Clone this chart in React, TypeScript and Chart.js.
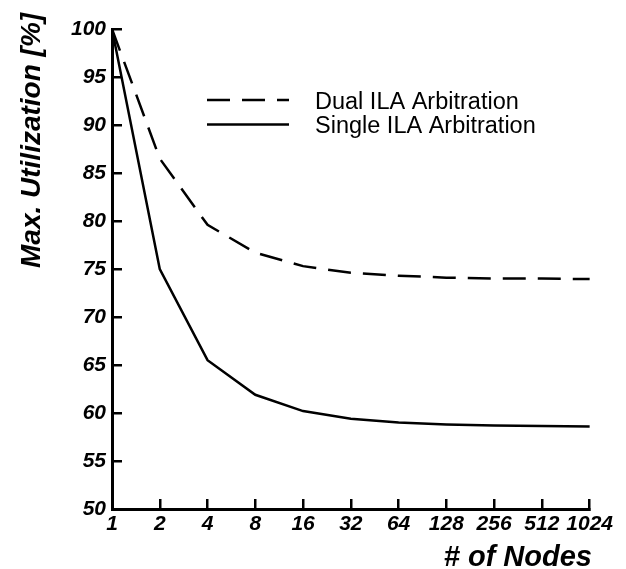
import React, { useEffect, useRef } from "react";
import { Chart, registerables } from "chart.js";

Chart.register(...registerables);

const nodeLabels = ["1", "2", "4", "8", "16", "32", "64", "128", "256", "512", "1024"];
const dualILA = [100, 86.5, 79.6, 76.7, 75.3, 74.6, 74.3, 74.1, 74.0, 74.0, 73.95];
const singleILA = [100, 75.0, 65.5, 61.9, 60.2, 59.4, 59.0, 58.8, 58.7, 58.65, 58.6];
const seriesNames = ["Dual ILA Arbitration", "Single ILA Arbitration"];
const yTitle = "Max. Utilization [%]";
const xTitle = "# of Nodes";

const FAMILY = "'Liberation Sans', Arial, Helvetica, sans-serif";

const overlayPlugin = {
  id: "overlay",
  afterDraw(chart: any) {
    const ctx = chart.ctx;
    ctx.save();
    ctx.fillStyle = "#000";
    ctx.strokeStyle = "#000";
    // legend
    ctx.lineWidth = 2.5;
    ctx.setLineDash([23, 12]);
    ctx.beginPath();
    ctx.moveTo(207, 100);
    ctx.lineTo(289, 100);
    ctx.stroke();
    ctx.setLineDash([]);
    ctx.beginPath();
    ctx.moveTo(207, 124.5);
    ctx.lineTo(289, 124.5);
    ctx.stroke();
    ctx.font = `23.5px ${FAMILY}`;
    ctx.textAlign = "left";
    ctx.textBaseline = "alphabetic";
    ctx.fillText(seriesNames[0], 315, 109);
    ctx.fillText(seriesNames[1], 315, 133);
    // x title
    ctx.font = `italic bold 29px ${FAMILY}`;
    ctx.textAlign = "right";
    ctx.fillText(xTitle, 592, 566);
    // y title
    ctx.translate(40, 268);
    ctx.rotate(-Math.PI / 2);
    ctx.font = `italic bold 28px ${FAMILY}`;
    ctx.textAlign = "left";
    ctx.fillText(yTitle, 0, 0);
    ctx.restore();
  },
};

export default function App() {
  const ref = useRef<HTMLCanvasElement | null>(null);
  useEffect(() => {
    if (!ref.current) return;
    const tickFont = { family: FAMILY, size: 21, weight: "bold" as const, style: "italic" as const };
    const chart = new Chart(ref.current, {
      type: "line",
      data: {
        labels: nodeLabels,
        datasets: [
          {
            label: seriesNames[0],
            data: dualILA,
            borderColor: "#000",
            borderWidth: 2.5,
            borderDash: [23, 12],
            pointRadius: 0,
            tension: 0,
            fill: false,
          },
          {
            label: seriesNames[1],
            data: singleILA,
            borderColor: "#000",
            borderWidth: 2.5,
            pointRadius: 0,
            tension: 0,
            fill: false,
          },
        ],
      },
      options: {
        animation: false,
        responsive: true,
        maintainAspectRatio: false,
        layout: { padding: { left: 0, top: 29, right: 34, bottom: 0 } },
        plugins: { legend: { display: false }, tooltip: { enabled: false } },
        scales: {
          x: {
            type: "category",
            offset: false,
            grid: { drawOnChartArea: false, drawTicks: true, tickLength: -10, color: "#000", lineWidth: 2.5 },
            border: { display: true, color: "#000", width: 3 },
            ticks: { font: tickFont, color: "#000", padding: 13, autoSkip: false, maxRotation: 0 },
            afterFit(scale: any) {
              scale.height = 60;
            },
          },
          y: {
            min: 50,
            max: 100,
            grid: { drawOnChartArea: false, drawTicks: true, tickLength: -10, color: "#000", lineWidth: 2.5 },
            border: { display: true, color: "#000", width: 3 },
            ticks: { font: tickFont, color: "#000", padding: 16, stepSize: 5 },
            afterFit(scale: any) {
              scale.width = 112;
            },
          },
        },
      },
      plugins: [overlayPlugin],
    });
    return () => chart.destroy();
  }, []);
  return (
    <div style={{ position: "fixed", left: 0, top: 0, width: 626, height: 569, background: "#fff" }}>
      <canvas ref={ref} />
    </div>
  );
}
